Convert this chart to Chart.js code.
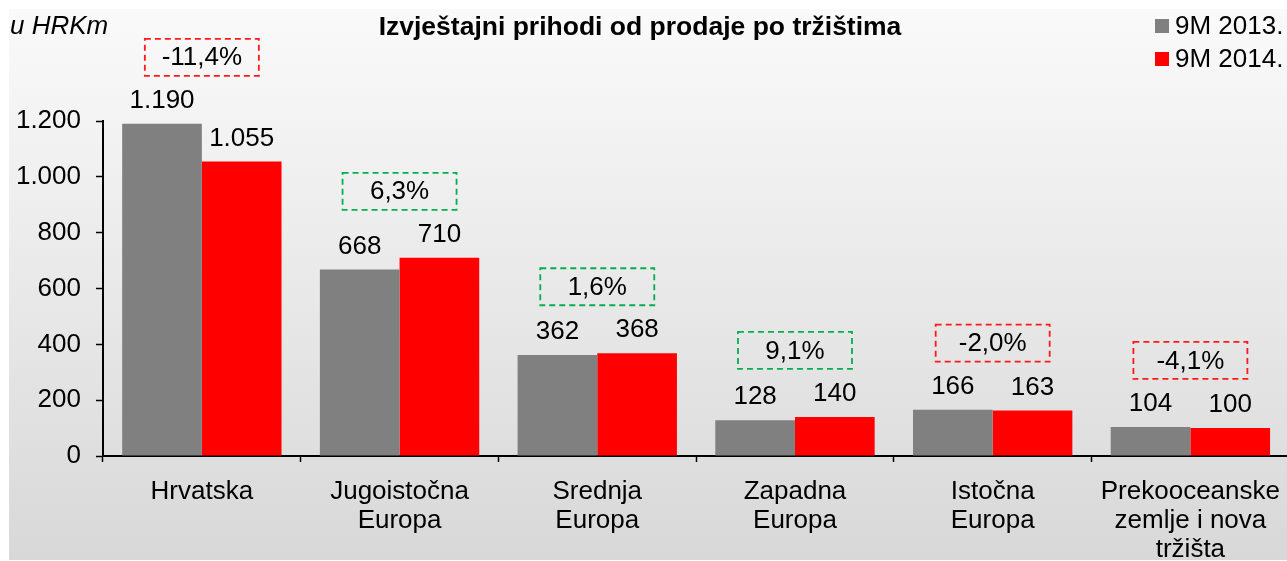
<!DOCTYPE html>
<html><head><meta charset="utf-8">
<script src="https://cdn.jsdelivr.net/npm/chart.js@4/dist/chart.umd.min.js"></script>
<style>html,body{margin:0;padding:0;background:#fff;overflow:hidden}#wrap{width:1287px;height:561px;position:relative;overflow:hidden}</style>
</head><body><div id="wrap"><canvas id="c" width="1295" height="561"></canvas></div>
<script>
const categories = [["Hrvatska"],["Jugoistočna","Europa"],["Srednja","Europa"],["Zapadna","Europa"],["Istočna","Europa"],["Prekooceanske","zemlje i nova","tržišta"]];
const series2013 = [1190, 668, 362, 128, 166, 104];
const series2014 = [1055, 710, 368, 140, 163, 100];
const changeLabels = ["-11,4%", "6,3%", "1,6%", "9,1%", "-2,0%", "-4,1%"];
const changePositive = [false, true, true, true, false, false];
const yTicks = [0, 200, 400, 600, 800, 1000, 1200];
const seriesNames = ["9M 2013.", "9M 2014."];
const titleText = "Izvještajni prihodi od prodaje po tržištima";
const unitText = "u HRKm";

const FONT = "'Liberation Sans', Arial, sans-serif";
const fmt = v => v.toLocaleString('de-DE');

const decor = {
  id: 'decor',
  beforeDraw(chart) {
    const ctx = chart.ctx;
    ctx.save();
    ctx.fillStyle = '#ffffff';
    ctx.fillRect(0, 0, chart.width, chart.height);
    const g = ctx.createLinearGradient(0, 9, 0, 560);
    g.addColorStop(0, '#fafafa');
    g.addColorStop(1, '#d8d8d8');
    ctx.fillStyle = g;
    ctx.fillRect(9, 9, chart.width - 9, 551);
    ctx.restore();
  },
  afterDatasetsDraw(chart) {
    const ctx = chart.ctx;
    ctx.save();
    ctx.font = '26px ' + FONT;
    ctx.fillStyle = '#000';
    ctx.textAlign = 'center';
    ctx.textBaseline = 'middle';
    chart.data.datasets.forEach((ds, di) => {
      const meta = chart.getDatasetMeta(di);
      meta.data.forEach((bar, i) => {
        ctx.fillText(fmt(ds.data[i]), bar.x, bar.y - 23);
      });
    });
    const m0 = chart.getDatasetMeta(0), m1 = chart.getDatasetMeta(1);
    changeLabels.forEach((t, i) => {
      const cx = (m0.data[i].x + m1.data[i].x) / 2;
      const top = Math.min(m0.data[i].y, m1.data[i].y);
      const bottom = top - 48;
      const w = 114, h = 37;
      ctx.setLineDash([6, 4]);
      ctx.lineWidth = 1.8;
      ctx.strokeStyle = changePositive[i] ? '#00b050' : '#ff1a1a';
      ctx.strokeRect(cx - w / 2, bottom - h, w, h);
      ctx.setLineDash([]);
      ctx.fillStyle = '#000';
      ctx.fillText(t, cx, bottom - h / 2 + 1);
    });
    ctx.font = 'bold 26.5px ' + FONT;
    ctx.fillText(titleText, 640, 28);
    ctx.font = 'italic 26px ' + FONT;
    ctx.textAlign = 'left';
    ctx.fillText(unitText, 10, 27);
    const cols = ['#808080', '#ff0000'];
    ctx.font = '26px ' + FONT;
    seriesNames.forEach((n, i) => {
      const y = 26 + i * 33;
      ctx.fillStyle = cols[i];
      ctx.fillRect(1155, y - 7, 14, 14);
      ctx.fillStyle = '#000';
      ctx.fillText(n, 1175, y + 1);
    });
    ctx.restore();
  }
};

new Chart(document.getElementById('c'), {
  type: 'bar',
  data: {
    labels: categories,
    datasets: [
      { label: seriesNames[0], data: series2013, backgroundColor: '#808080', barPercentage: 1, categoryPercentage: 0.806 },
      { label: seriesNames[1], data: series2014, backgroundColor: '#ff0000', barPercentage: 1, categoryPercentage: 0.806 }
    ]
  },
  options: {
    responsive: false,
    animation: false,
    devicePixelRatio: 1,
    layout: { padding: { top: 121, left: 0, right: 0, bottom: 0 } },
    plugins: { legend: { display: false }, title: { display: false }, tooltip: { enabled: false } },
    scales: {
      x: {
        grid: { display: true, drawOnChartArea: false, offset: true, tickLength: 6, color: '#000', tickWidth: 1.5 },
        border: { display: true, color: '#000', width: 2 },
        ticks: { color: '#000', font: { family: FONT, size: 26, lineHeight: 1.12 }, padding: 15, maxRotation: 0, autoSkip: false },
        afterFit(s) { s.height = 105; }
      },
      y: {
        min: 0, max: 1200,
        afterBuildTicks(s) { s.ticks = yTicks.map(v => ({ value: v })); },
        grid: { display: true, drawOnChartArea: false, tickLength: 7, color: '#000', tickWidth: 1.5 },
        border: { display: true, color: '#000', width: 2 },
        ticks: { color: '#000', font: { family: FONT, size: 26 }, padding: 15, callback: v => fmt(v) },
        afterFit(s) { s.width = 103; }
      }
    }
  },
  plugins: [decor]
});
</script></body></html>
